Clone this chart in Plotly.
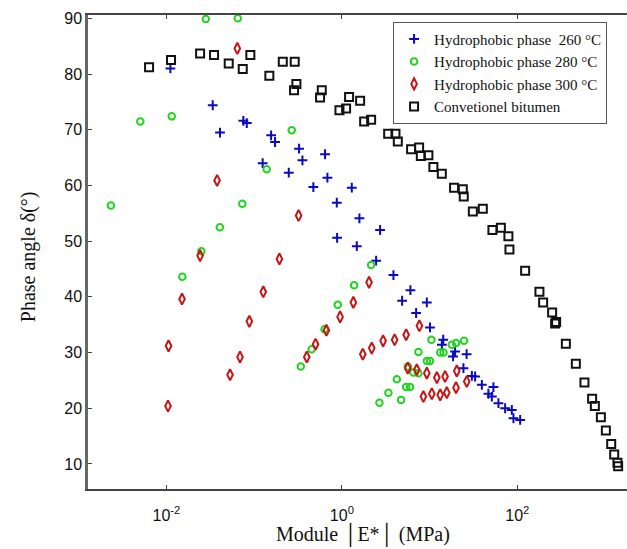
import plotly.graph_objects as go

# Hydrophobic phase 260 °C
x260 = [0.0111, 0.0337, 0.0408, 0.0753, 0.0824, 0.125, 0.156, 0.173, 0.248, 0.325,
        0.355, 0.473, 0.643, 0.684, 0.875, 0.882, 1.297, 1.479, 1.584, 2.456,
        2.727, 3.87, 4.86, 6.04, 7.02, 9.29, 10.1, 13.8, 14.3, 18.5,
        19.5, 26.4, 24.3, 30.3, 33.0, 39.4, 53.4, 46.8, 51.2, 60.9,
        72.6, 86.5, 90.3, 107.7]
y260 = [81.0, 74.4, 69.5, 71.6, 71.2, 64.0, 69.0, 67.8, 62.3, 66.6,
        64.5, 59.7, 65.6, 61.4, 56.9, 50.6, 59.6, 49.1, 54.1, 46.5,
        52.0, 43.9, 39.3, 41.2, 37.1, 39.0, 34.5, 31.4, 32.3, 29.3,
        30.2, 29.7, 27.2, 25.8, 25.7, 24.2, 23.8, 22.6, 22.1, 20.9,
        20.0, 19.7, 18.2, 17.9]

# Hydrophobic phase 280 °C
x280 = [0.00233, 0.00504, 0.01149, 0.01518, 0.0250, 0.0281, 0.0406, 0.0650, 0.0733, 0.139,
        0.268, 0.340, 0.452, 0.635, 0.898, 1.377, 2.153, 2.68, 3.39, 4.23,
        4.73, 5.40, 5.99, 5.64, 6.53, 7.45, 7.45, 9.29, 10.1, 10.5,
        13.2, 14.4, 17.9, 20.0, 24.7]
y280 = [56.4, 71.5, 72.4, 43.6, 48.2, 89.9, 52.5, 90.0, 56.7, 62.9,
        69.9, 27.5, 30.6, 34.2, 38.6, 42.1, 45.7, 21.0, 22.8, 25.2,
        21.5, 23.8, 23.8, 27.5, 26.4, 26.3, 30.1, 28.5, 28.5, 32.3,
        30.0, 30.0, 31.4, 31.7, 32.1]

# Hydrophobic phase 300 °C
x300 = [0.01043, 0.01057, 0.01506, 0.0242, 0.0378, 0.0531, 0.0643, 0.0690, 0.0881, 0.127,
        0.194, 0.321, 0.398, 0.501, 0.666, 0.954, 1.352, 2.04, 1.73, 2.19,
        2.95, 3.99, 5.40, 7.65, 5.64, 7.14, 9.29, 12.1, 15.0, 20.4,
        26.5, 20.0, 15.7, 13.2, 10.6, 8.49]
y300 = [20.4, 31.2, 39.6, 47.4, 60.9, 26.0, 84.6, 29.2, 35.6, 40.9,
        46.8, 54.6, 29.2, 31.5, 34.0, 36.4, 39.0, 42.6, 29.7, 30.8,
        32.1, 32.3, 33.2, 34.8, 27.2, 26.9, 26.3, 25.5, 25.7, 26.7,
        24.8, 23.7, 22.8, 22.4, 22.6, 22.1]

# Convetionel bitumen
xbit = [0.00634, 0.01128, 0.0242, 0.0349, 0.0513, 0.0741, 0.0905, 0.149, 0.212, 0.290,
        0.303, 0.285, 0.590, 0.564, 0.938, 1.117, 1.208, 1.614, 1.794, 2.154,
        3.37, 4.08, 4.34, 6.15, 7.59, 7.94, 9.69, 11.04, 13.77, 19.0,
        23.9, 24.5, 31.1, 40.4, 52.0, 64.9, 79.1, 81.3, 122.7, 178.6,
        196.8, 249.3, 276.9, 269.7, 357.3, 464.5, 582, 712, 765, 896,
        1021, 1175, 1271, 1384, 1409]
ybit = [81.2, 82.5, 83.7, 83.4, 81.9, 80.9, 83.4, 79.7, 82.2, 82.2,
        78.2, 77.1, 77.1, 75.8, 73.5, 73.8, 75.9, 75.2, 71.5, 71.8,
        69.3, 69.3, 67.9, 66.5, 66.8, 65.3, 65.4, 63.3, 62.1, 59.6,
        59.3, 58.0, 55.3, 55.8, 52.0, 52.4, 50.9, 48.5, 44.7, 40.9,
        39.0, 37.2, 35.5, 35.2, 31.6, 28.0, 24.6, 21.7, 20.4, 18.4,
        16.0, 13.6, 11.7, 10.2, 9.6]

names = ["Hydrophobic phase\u00a0\u00a0260 °C", "Hydrophobic phase 280 °C",
         "Hydrophobic phase 300 °C", "Convetionel bitumen"]

xtick_vals = [0.01, 1, 100]
xtick_text = ["10<sup>-2</sup>", "10<sup>0</sup>", "10<sup>2</sup>"]
ytick_vals = [10, 20, 30, 40, 50, 60, 70, 80, 90]

fig = go.Figure()
fig.add_trace(go.Scatter(x=x260, y=y260, mode="markers", name=names[0],
                         marker=dict(symbol="cross-thin-open", size=7, color="#0a0ac0",
                                     line=dict(width=2, color="#0a0ac0"))))
fig.add_trace(go.Scatter(x=x280, y=y280, mode="markers", name=names[1],
                         marker=dict(symbol="circle-open", size=6.5, color="#22d422",
                                     line=dict(width=2, color="#22d422"))))
fig.add_trace(go.Scatter(x=x300, y=y300, mode="markers", name=names[2],
                         marker=dict(symbol="diamond-tall-open", size=8, color="#c81414",
                                     line=dict(width=2, color="#c81414"))))
fig.add_trace(go.Scatter(x=xbit, y=ybit, mode="markers", name=names[3],
                         marker=dict(symbol="square-open", size=8, color="#111111",
                                     line=dict(width=2, color="#111111"))))

fig.update_layout(
    width=627, height=549,
    margin=dict(l=88, r=0, t=15, b=60),
    paper_bgcolor="white", plot_bgcolor="white",
    showlegend=True,
    legend=dict(x=0.566, y=0.986, xanchor="left", yanchor="top",
                bgcolor="white", bordercolor="#555555", borderwidth=1,
                font=dict(family="Liberation Serif, Times New Roman, serif", size=15, color="#111"),
                itemsizing="trace", tracegroupgap=0),
    xaxis=dict(type="log", range=[-2.894, 3.25], tickvals=xtick_vals, ticktext=xtick_text,
               ticks="inside", ticklen=4, tickcolor="#444", showline=True, linecolor="#444",
               linewidth=2, mirror="ticks", showgrid=False, zeroline=False,
               tickfont=dict(family="Liberation Sans, Arial, sans-serif", size=16, color="#111"),
               ticklabelstandoff=11),
    yaxis=dict(range=[5.5, 90.6], tickvals=ytick_vals, ticks="inside", ticklen=4,
               tickcolor="#444", showline=True, linecolor="#666", linewidth=2.5,
               showgrid=False, zeroline=False,
               tickfont=dict(family="Liberation Sans, Arial, sans-serif", size=16, color="#111")),
)

fig.add_annotation(text="Phase angle δ(°)", xref="paper", yref="paper",
                   x=-0.1105, y=0.49, xanchor="center", yanchor="middle", textangle=-90,
                   showarrow=False,
                   font=dict(family="Liberation Serif, Times New Roman, serif", size=20, color="#111"))
fig.add_annotation(text="Module │E*│ (MPa)", xref="paper", yref="paper",
                   x=(363 - 88) / 539, y=-0.098, xanchor="center", yanchor="middle",
                   showarrow=False,
                   font=dict(family="Liberation Serif, Times New Roman, serif", size=20, color="#111"))

fig.write_html("out.html")
